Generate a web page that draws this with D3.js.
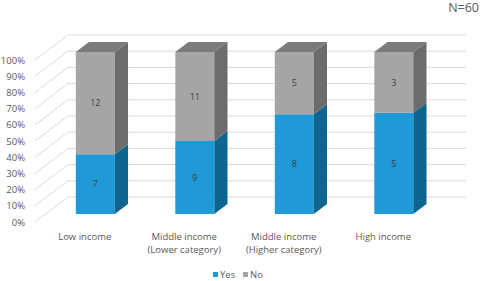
<!DOCTYPE html>
<html>
<head>
<meta charset="utf-8">
<script src="https://cdn.jsdelivr.net/npm/d3@7"></script>
<style>
  body { margin: 0; background: #fff; }
  svg { display: block; font-family: "Open Sans", sans-serif; }
</style>
</head>
<body>
<div id="chart"></div>
<script>
'use strict';

// data
const categories = [
  ['Low income'],
  ['Middle income', '(Lower category)'],
  ['Middle income', '(Higher category)'],
  ['High income']
]
const yes_counts = [7, 9, 8, 5]
const no_counts = [12, 11, 5, 3]
const series_names = ['Yes', 'No']
const y_ticks = [0, 0.1, 0.2, 0.3, 0.4, 0.5, 0.6, 0.7, 0.8, 0.9, 1]
const note_text = 'N=60'

const width = 480
const height = 281
const colors = {
  Yes: { front: '#1f9ad6', side: '#0d6590', top: '#1a82b5' },
  No: { front: '#a5a5a5', side: '#6c6c6c', top: '#7b7b7b' }
}

// 3d depth of the walls (full depth) and where the bars sit in it
const depth = { dx: 33, dy: -25 }
const bar_d0 = 0.32
const bar_d1 = 0.72
const proj = (x, y, d) => [x + depth.dx * d, y + depth.dy * d]

const svg = d3.select('#chart').append('svg')
  .attr('width', width)
  .attr('height', height)

const xScale = d3.scaleBand()
  .domain(d3.range(categories.length))
  .range([35, 433])

const yScale = d3.scaleLinear()
  .domain([0, 1])
  .range([222, 60])

// walls: gridlines on the back wall and the diagonals on the side wall
const grid_g = svg.append('g')
  .attr('stroke', '#d9d9d9')
  .attr('stroke-width', 1)
  .attr('fill', 'none')

grid_g.selectAll('line.back')
  .data(y_ticks)
  .join('line')
  .attr('class', 'back')
  .attr('x1', d => proj(xScale.range()[0], yScale(d), 1)[0])
  .attr('x2', d => proj(xScale.range()[1], yScale(d), 1)[0])
  .attr('y1', d => proj(0, yScale(d), 1)[1])
  .attr('y2', d => proj(0, yScale(d), 1)[1])

grid_g.selectAll('line.side')
  .data(y_ticks)
  .join('line')
  .attr('class', 'side')
  .attr('x1', xScale.range()[0])
  .attr('y1', d => yScale(d))
  .attr('x2', d => proj(xScale.range()[0], yScale(d), 1)[0])
  .attr('y2', d => proj(0, yScale(d), 1)[1])

// y axis labels
const yAxis = d3.axisLeft(yScale)
  .tickValues(y_ticks)
  .tickFormat(d3.format('.0%'))
  .tickSize(0)
  .tickPadding(10)

const yAxisGroup = svg.append('g')
  .attr('transform', `translate(${xScale.range()[0]},0)`)
  .call(yAxis)
yAxisGroup.select('.domain').remove()
yAxisGroup.selectAll('text')
  .style('font-family', '"Open Sans", sans-serif')
  .style('font-size', '9.5px')
  .attr('fill', '#595959')

// stacked data in shares
const dataReady = categories.map(function(cat, i){
  const total = yes_counts[i] + no_counts[i]
  let base = 0
  const segs = series_names.map(function(name){
    const n = name === 'Yes' ? yes_counts[i] : no_counts[i]
    const seg = { name: name, n: n, y0: base, y1: base + n / total }
    base = seg.y1
    return seg
  })
  return { idx: i, label: cat, segs: segs }
})

const bar_w = 39
const line = d3.line()

const bars_g = svg.append('g')
  .selectAll('g')
  .data(dataReady)
  .join('g')

bars_g.each(function(bar){
  const g = d3.select(this)
  const xl = xScale(bar.idx) + (xScale.bandwidth() - bar_w) / 2
  const xr = xl + bar_w
  bar.segs.forEach(function(seg, k){
    const yb = yScale(seg.y0)
    const yt = yScale(seg.y1)
    const c = colors[seg.name]
    // front face
    g.append('path')
      .attr('d', line([proj(xl, yb, bar_d0), proj(xr, yb, bar_d0), proj(xr, yt, bar_d0), proj(xl, yt, bar_d0)]) + 'Z')
      .attr('fill', c.front)
    // right side face
    g.append('path')
      .attr('d', line([proj(xr, yb, bar_d0), proj(xr, yb, bar_d1), proj(xr, yt, bar_d1), proj(xr, yt, bar_d0)]) + 'Z')
      .attr('fill', c.side)
    // top face on the last segment
    if(k === bar.segs.length - 1){
      g.append('path')
        .attr('d', line([proj(xl, yt, bar_d0), proj(xl, yt, bar_d1), proj(xr, yt, bar_d1), proj(xr, yt, bar_d0)]) + 'Z')
        .attr('fill', c.top)
    }
    // value label
    const mid = proj((xl + xr) / 2, (yb + yt) / 2, bar_d0)
    g.append('text')
      .attr('x', mid[0])
      .attr('y', mid[1])
      .attr('dy', '0.35em')
      .attr('text-anchor', 'middle')
      .style('font-size', '9px')
      .attr('fill', '#404040')
      .text(seg.n)
  })
})

// category labels
svg.append('g')
  .selectAll('text')
  .data(dataReady)
  .join('text')
  .attr('x', d => xScale(d.idx) + xScale.bandwidth() / 2)
  .attr('y', 240)
  .attr('text-anchor', 'middle')
  .style('font-size', '9.5px')
  .attr('fill', '#595959')
  .selectAll('tspan')
  .data(d => d.label)
  .join('tspan')
  .attr('x', function(){ return d3.select(this.parentNode).attr('x') })
  .attr('dy', (d, i) => i === 0 ? 0 : 13)
  .text(d => d)

// legend
const legend = svg.append('g')
  .style('font-size', '9.5px')
  .selectAll('g')
  .data(series_names)
  .join('g')
  .attr('transform', (d, i) => `translate(${213 + i * 30},275)`)

legend.append('rect')
  .attr('x', 0)
  .attr('y', -3)
  .attr('width', 5)
  .attr('height', 5)
  .attr('fill', d => colors[d].front)

legend.append('text')
  .attr('x', 7)
  .attr('y', 0)
  .attr('dy', '0.35em')
  .attr('fill', '#595959')
  .text(d => d)

// sample size note
svg.append('text')
  .attr('x', 479)
  .attr('y', 12)
  .attr('text-anchor', 'end')
  .style('font-size', '12.5px')
  .attr('fill', '#595959')
  .text(note_text)
</script>
</body>
</html>
